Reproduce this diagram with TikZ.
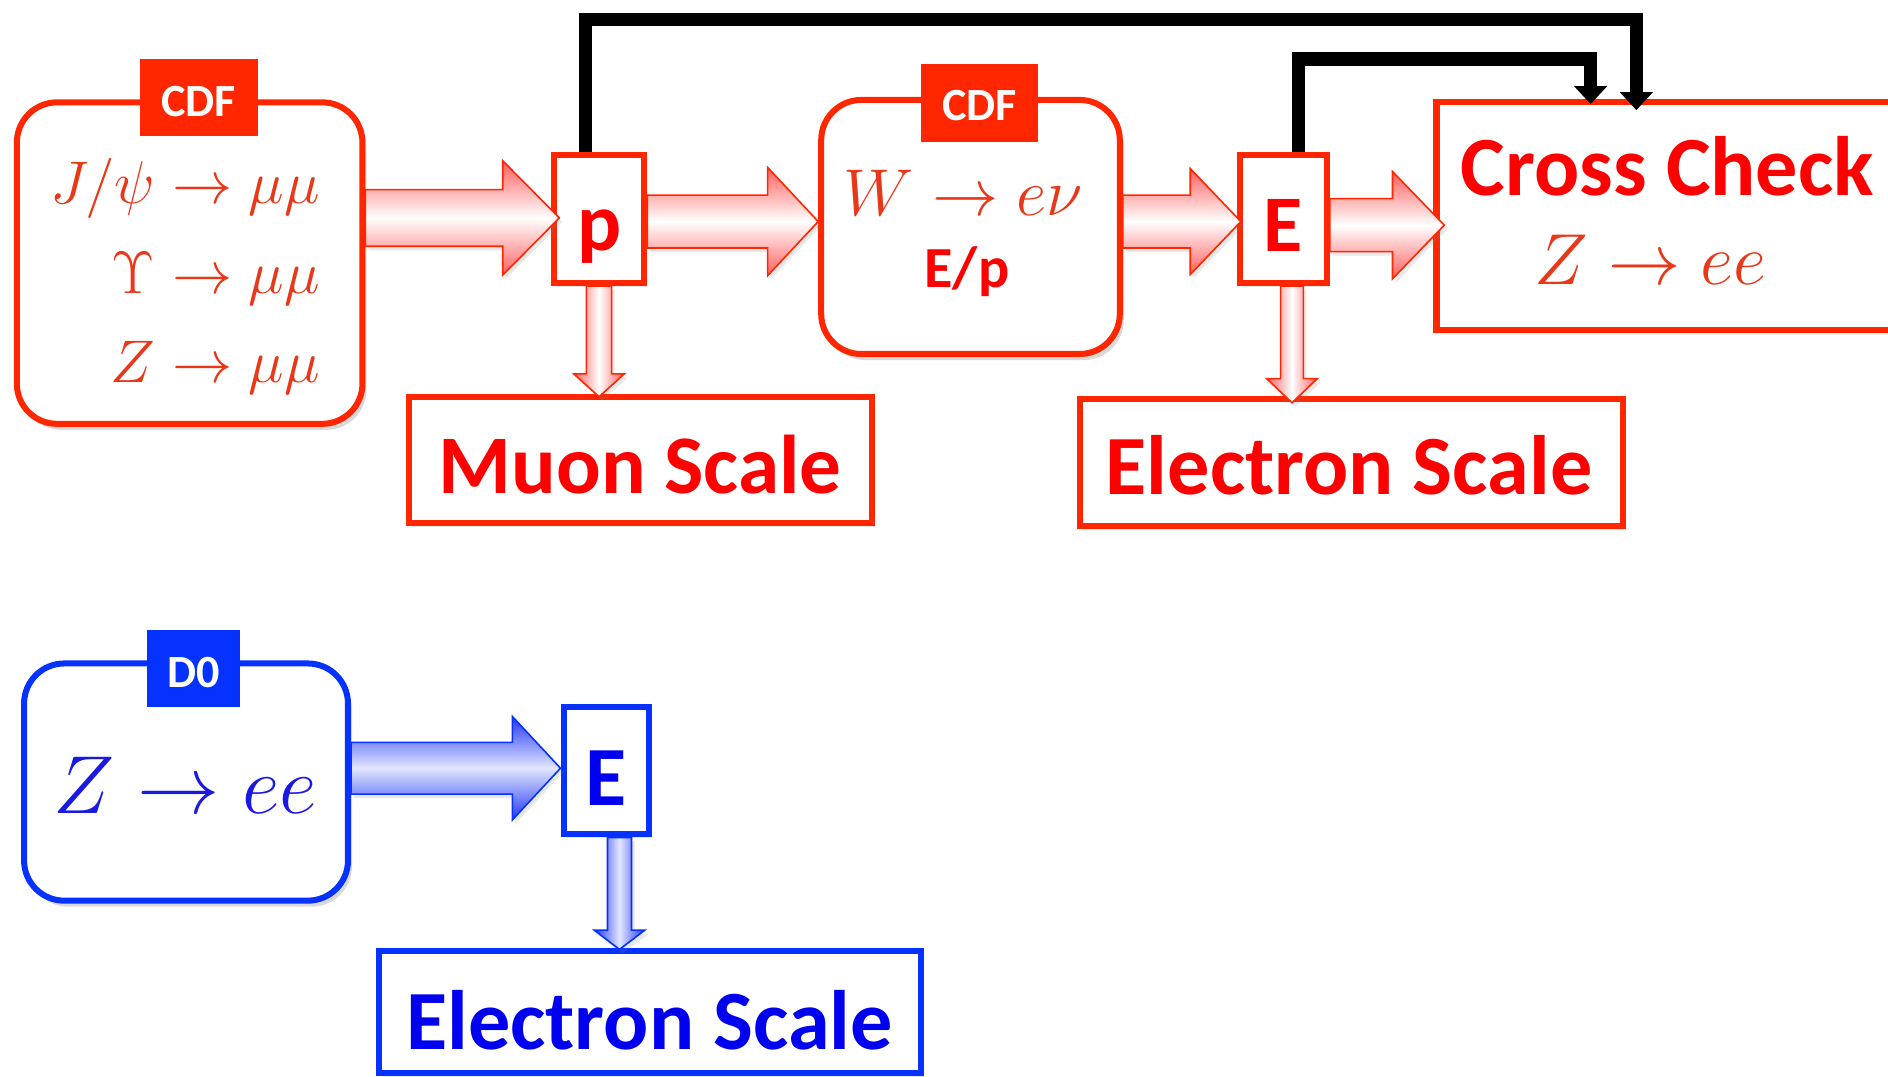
\RequirePackage{fix-cm}
\documentclass[tikz,border=0pt]{standalone}
\usepackage[no-math]{fontspec}
\setmainfont{Carlito}
\usetikzlibrary{fit,calc,shadows,arrows.meta}
\definecolor{cRed}{RGB}{255,38,0}
\definecolor{tRed}{RGB}{255,0,0}
\definecolor{mRed}{RGB}{232,55,25}
\definecolor{aRed}{RGB}{255,95,95}
\definecolor{cBlue}{RGB}{5,50,255}
\definecolor{tBlue}{RGB}{0,0,240}
\definecolor{mBlue}{RGB}{25,25,225}
\definecolor{aBlue}{RGB}{35,55,245}
\newcommand{\fatH}[6]{\path[#1] ($(#2 |- #3)+(0,#4)$) -- ($(#3)+(-#6,#4)$) -- ($(#3)+(-#6,#5)$) -- (#3) -- ($(#3)+(-#6,-#5)$) -- ($(#3)+(-#6,-#4)$) -- ($(#2 |- #3)+(0,-#4)$) -- cycle;}
\newcommand{\fatV}[6]{\path[#1] ($(#2 -| #3)+(-#4,0)$) -- ($(#3)+(-#4,-#6)$) -- ($(#3)+(-#5,-#6)$) -- (#3) -- ($(#3)+(#5,-#6)$) -- ($(#3)+(#4,-#6)$) -- ($(#2 -| #3)+(#4,0)$) -- cycle;}
\begin{document}
\begin{tikzpicture}[x=0.6pt,y=-0.6pt,
  rbox/.style={draw=#1, line width=3pt, fill=white, rounded corners=20pt, inner sep=0pt,
     drop shadow={shadow xshift=2pt,shadow yshift=-3pt,opacity=0.3}},
  sbox/.style={draw=#1, line width=3pt, fill=white, inner sep=0pt,
     drop shadow={shadow xshift=1.5pt,shadow yshift=-2pt,opacity=0.18}},
  tagbox/.style={fill=#1, inner sep=0pt},
  txt/.style={inner sep=0pt},
  fatR/.style={draw=cRed, line width=0.8pt, line join=miter, top color=aRed, bottom color=aRed, middle color=white,
     drop shadow={shadow xshift=1.5pt,shadow yshift=-2pt,opacity=0.18}},
  fatRV/.style={draw=cRed, line width=0.8pt, line join=miter, left color=aRed, right color=aRed, middle color=white,
     drop shadow={shadow xshift=1.5pt,shadow yshift=-2pt,opacity=0.18}},
  fatB/.style={draw=cBlue, line width=0.8pt, line join=miter, top color=aBlue, bottom color=aBlue, middle color={rgb,255:red,225;green,230;blue,255},
     drop shadow={shadow xshift=1.5pt,shadow yshift=-2pt,opacity=0.18}},
  fatBV/.style={draw=cBlue, line width=0.8pt, line join=miter, left color=aBlue, right color=aBlue, middle color={rgb,255:red,225;green,230;blue,255},
     drop shadow={shadow xshift=1.5pt,shadow yshift=-2pt,opacity=0.18}},
  blk/.style={draw=black, line width=6.5pt, line join=miter, -{Triangle[width=16pt,length=9pt]}}
]
\useasboundingbox (0,0) rectangle (1568,894);
\clip (0,0) rectangle (1568,894);
% ---------- boxes (CDF) ----------
\node[rbox=cRed, fit={(14,85) (301,352)}] (cdf1) {};
\node[tagbox=cRed, fit={(116,49) (214,113)}] (tag1) {};
\node[txt, anchor=base, text=white, font=\fontsize{23}{26}\selectfont\bfseries] (tag1t) at (165,97) {CDF};
\node[txt, anchor=base east, text=mRed, font=\fontsize{30}{36}\selectfont] (m1) at (266,169) {$J/\psi \to \mu\mu$};
\node[txt, anchor=base east, text=mRed, font=\fontsize{30}{36}\selectfont] (m2) at (266,244) {$\Upsilon \to \mu\mu$};
\node[txt, anchor=base east, text=mRed, font=\fontsize{30}{36}\selectfont] (m3) at (266,318) {$Z \to \mu\mu$};

\node[sbox=cRed, fit={(460,129) (535,235)}] (pbox) {};
\node[txt, anchor=base, text=tRed, font=\fontsize{41}{44}\selectfont\bfseries] (pt) at (498,208) {p};

\node[sbox=cRed, fit={(340,330) (724,434)}] (muon) {};
\node[txt, anchor=base west, text=tRed, font=\fontsize{41.5}{46}\selectfont\bfseries] (muont) at (364,410) {Muon Scale};

\node[rbox=cRed, fit={(682,83) (930,294)}] (cdf2) {};
\node[tagbox=cRed, fit={(765,53) (862,118)}] (tag2) {};
\node[txt, anchor=base, text=white, font=\fontsize{23}{26}\selectfont\bfseries] (tag2t) at (813.5,100) {CDF};
\node[txt, anchor=base, text=mRed, font=\fontsize{33}{38}\selectfont] (w) at (800,179) {$W \to e\nu$};
\node[txt, anchor=base, text=tRed, font=\fontsize{29}{33}\selectfont\bfseries] (ep) at (803,239) {E/p};

\node[sbox=cRed, fit={(1030,129) (1102,235)}] (ebox) {};
\node[txt, anchor=base, text=tRed, font=\fontsize{40}{44}\selectfont\bfseries] (et) at (1066,209) {E};

\node[sbox=cRed, fit={(897,331) (1348,437)}] (escale) {};
\node[txt, anchor=base west, text=tRed, font=\fontsize{42}{46}\selectfont\bfseries] (escalet) at (918,411) {Electron Scale};

\node[sbox=cRed, fit={(1193,85) (1640,274)}] (cross) {};
\node[txt, anchor=base west, text=tRed, font=\fontsize{42}{46}\selectfont\bfseries] (crosst) at (1213,162) {Cross Check};
\node[txt, anchor=base west, text=mRed, font=\fontsize{36}{40}\selectfont] (zee1) at (1274,236) {$Z \to ee$};

% ---------- boxes (D0) ----------
\node[rbox=cBlue, fit={(20,551) (289,748)}] (d0) {};
\node[tagbox=cBlue, fit={(122,523) (199,587)}] (tag3) {};
\node[txt, anchor=base, text=white, font=\fontsize{23}{26}\selectfont\bfseries] (tag3t) at (160.5,571) {D0};
\node[txt, anchor=base west, text=mBlue, font=\fontsize{41}{46}\selectfont] (zee2) at (44,676) {$Z \to ee$};

\node[sbox=cBlue, fit={(468,587) (539,693)}] (eblue) {};
\node[txt, anchor=base, text=tBlue, font=\fontsize{42}{46}\selectfont\bfseries] (ebt) at (503.5,669) {E};

\node[sbox=cBlue, fit={(315,790) (765,891)}] (esblue) {};
\node[txt, anchor=base west, text=tBlue, font=\fontsize{42}{46}\selectfont\bfseries] (esbt) at (337,872) {Electron Scale};

% ---------- fat arrows ----------
\coordinate (t1) at ($(pbox.west)+(7,-1)$);
\coordinate (t2) at ($(cdf2.west)+(0,-4.5)$);
\coordinate (t3) at ($(ebox.west)+(3,2)$);
\coordinate (t4) at ($(cross.west)+(9,7.5)$);
\coordinate (tb) at ($(eblue.west)+(0,-2)$);
\fatH{fatR}{cdf1.east}{t1}{23.5}{47.5}{47}
\fatH{fatR}{pbox.east}{t2}{22}{45}{42}
\fatH{fatR}{cdf2.east}{t3}{22}{44}{42}
\fatH{fatR}{ebox.east}{t4}{22}{44.5}{43}
\fatH{fatB}{d0.east}{tb}{21.5}{43}{40}

\coordinate (dpS) at (pbox.south);
\coordinate (dpT) at ($(pbox.south |- muon.north)+(0,2)$);
\coordinate (deS) at ($(ebox.south)+(7,0)$);
\coordinate (deT) at ($(deS |- escale.north)+(0,6)$);
\coordinate (dbS) at ($(eblue.south)+(11,0)$);
\coordinate (dbT) at ($(dbS |- esblue.north)+(0,1)$);
\fatV{fatRV}{dpS}{dpT}{10.5}{21}{19}
\fatV{fatRV}{deS}{deT}{9.5}{21}{20}
\fatV{fatBV}{dbS}{dbT}{10}{21}{16}

% ---------- black feedback lines ----------
\coordinate (k1) at (1359,16);
\coordinate (k2) at (1321,49);
\draw[blk] ($(pbox.north)+(-11,0)$) |- (k1) -- ($(k1 |- cross.north)+(0,9)$);
\draw[blk] ($(ebox.north)+(12,0)$) |- (k2) -- ($(k2 |- cross.north)+(0,4)$);
\end{tikzpicture}
\end{document}
